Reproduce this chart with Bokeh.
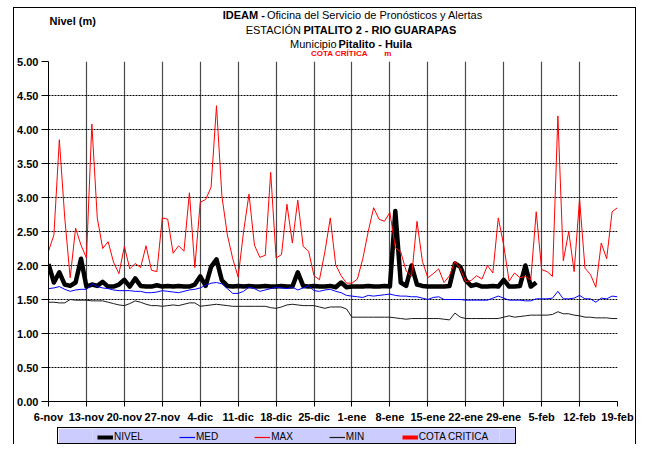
from bokeh.plotting import figure
from bokeh.models import (FixedTicker, PrintfTickFormatter, Legend, LegendItem, Range1d,
                          InlineStyleSheet)
from bokeh.layouts import column
from bokeh.embed import file_html
from bokeh.resources import INLINE
from bokeh.core.properties import value

# ---------------- data (daily, starting 6-nov) ----------------
tick_labels = ["6-nov", "13-nov", "20-nov", "27-nov", "4-dic", "11-dic", "18-dic",
               "25-dic", "1-ene", "8-ene", "15-ene", "22-ene", "29-ene", "5-feb",
               "12-feb", "19-feb"]
y_ticks = [0.0, 0.5, 1.0, 1.5, 2.0, 2.5, 3.0, 3.5, 4.0, 4.5, 5.0]

nivel = [2.02, 1.75, 1.90, 1.72, 1.70, 1.75, 2.10, 1.69, 1.72, 1.70,
         1.76, 1.69, 1.69, 1.72, 1.79, 1.69, 1.81, 1.70, 1.69, 1.69,
         1.71, 1.69, 1.70, 1.69, 1.70, 1.69, 1.69, 1.72, 1.84, 1.70,
         1.98, 2.09, 1.78, 1.70, 1.69, 1.70, 1.69, 1.70, 1.69, 1.69,
         1.70, 1.69, 1.69, 1.70, 1.69, 1.69, 1.90, 1.70, 1.69, 1.70,
         1.69, 1.69, 1.70, 1.68, 1.75, 1.68, 1.69, 1.69, 1.69, 1.70,
         1.69, 1.69, 1.70, 1.69, 2.80, 1.75, 1.70, 2.00, 1.72, 1.70,
         1.69, 1.69, 1.69, 1.69, 1.70, 2.03, 1.98, 1.78, 1.70, 1.72,
         1.69, 1.69, 1.70, 1.69, 1.79, 1.69, 1.69, 1.70, 2.00, 1.69,
         1.75]

med = [1.66, 1.67, 1.69, 1.65, 1.62, 1.64, 1.65, 1.65, 1.73, 1.69,
       1.67, 1.66, 1.64, 1.63, 1.63, 1.63, 1.62, 1.62, 1.60, 1.60,
       1.61, 1.63, 1.62, 1.61, 1.60, 1.62, 1.64, 1.65, 1.67, 1.71,
       1.74, 1.75, 1.73, 1.66, 1.59, 1.59, 1.62, 1.68, 1.66, 1.62,
       1.64, 1.66, 1.68, 1.67, 1.66, 1.68, 1.64, 1.67, 1.70, 1.63,
       1.62, 1.64, 1.65, 1.62, 1.60, 1.56, 1.55, 1.54, 1.53, 1.56,
       1.55, 1.56, 1.57, 1.58, 1.56, 1.55, 1.55, 1.54, 1.54, 1.52,
       1.50, 1.53, 1.54, 1.50, 1.50, 1.50, 1.50, 1.49, 1.49, 1.49,
       1.49, 1.49, 1.52, 1.55, 1.52, 1.49, 1.49, 1.49, 1.48, 1.48,
       1.51, 1.51, 1.51, 1.52, 1.62, 1.51, 1.51, 1.52, 1.56, 1.51,
       1.51, 1.46, 1.52, 1.51, 1.55, 1.54]

maxv = [2.21, 2.45, 3.85, 2.70, 1.82, 2.55, 2.30, 2.11, 4.08, 2.70,
        2.25, 2.35, 2.05, 1.88, 2.28, 1.95, 2.03, 1.97, 2.29, 1.93,
        1.91, 2.70, 2.68, 2.18, 2.29, 2.21, 3.07, 1.97, 2.93, 2.97,
        3.15, 4.35, 3.02, 2.45, 2.10, 1.83, 2.50, 3.05, 2.30, 2.12,
        2.15, 3.37, 2.11, 2.16, 2.90, 2.33, 2.96, 2.28, 2.21, 1.85,
        1.79, 2.20, 2.70, 2.01, 1.85, 1.74, 1.74, 1.80, 2.10, 2.50,
        2.85, 2.68, 2.65, 2.78, 2.26, 2.20, 1.92, 1.84, 2.65, 2.06,
        1.82, 1.88, 1.95, 1.75, 1.85, 2.06, 1.95, 1.76, 1.78, 1.85,
        1.80, 2.00, 1.89, 2.70, 2.30, 1.77, 1.89, 1.82, 1.84, 1.79,
        2.79, 1.94, 1.91, 1.84, 4.20, 2.07, 2.50, 1.91, 2.98, 1.96,
        1.87, 1.68, 2.33, 2.10, 2.79, 2.85]

minv = [1.46, 1.46, 1.45, 1.45, 1.50, 1.49, 1.49, 1.49, 1.48, 1.48,
        1.48, 1.46, 1.44, 1.42, 1.41, 1.44, 1.48, 1.46, 1.43, 1.41,
        1.41, 1.40, 1.41, 1.42, 1.41, 1.43, 1.45, 1.45, 1.40, 1.41,
        1.42, 1.43, 1.42, 1.41, 1.40, 1.40, 1.40, 1.40, 1.40, 1.40,
        1.40, 1.38, 1.37, 1.39, 1.42, 1.43, 1.42, 1.41, 1.41, 1.41,
        1.39, 1.37, 1.39, 1.39, 1.39, 1.36, 1.24, 1.24, 1.24, 1.24,
        1.24, 1.24, 1.24, 1.24, 1.23, 1.22, 1.21, 1.22, 1.22, 1.22,
        1.22, 1.22, 1.22, 1.21, 1.20, 1.30, 1.24, 1.22, 1.22, 1.22,
        1.22, 1.22, 1.22, 1.22, 1.24, 1.26, 1.24, 1.25, 1.26, 1.27,
        1.27, 1.27, 1.27, 1.28, 1.32, 1.29, 1.29, 1.27, 1.26, 1.24,
        1.24, 1.23, 1.23, 1.23, 1.22, 1.22]

days = list(range(len(maxv)))
nivel_days = list(range(len(nivel)))
x_ticks = [7 * i for i in range(len(tick_labels))]
X_END = x_ticks[-1]

FONT = "Liberation Sans"

# page geometry (page pixels; layout origin is the page's top-left corner)
X0, Y0 = 14, 8          # inside the outer frame (frame lines at x=13, y=7)
ML, MR = 34, 18         # left/right borders, shared by every figure of the column
FW = 583                # plot frame width (page x 48 .. 631)
FL, FR = X0 + ML, X0 + ML + FW
HEAD_H = 49

# ---------------- header (titles) ----------------
head = figure(width=ML + FW + MR, height=HEAD_H, output_backend="svg", toolbar_location=None,
              x_axis_location=None, y_axis_location=None,
              x_range=Range1d(FL, FR), y_range=Range1d(Y0 + HEAD_H, Y0),
              min_border_left=ML, min_border_right=MR,
              min_border_top=0, min_border_bottom=0)
head.grid.visible = False
head.outline_line_color = None


def htext(xs, ys, texts, size="11px", bold=False, color="black"):
    head.text(x=xs, y=ys, text=texts, text_font=value(FONT), text_font_size=value(size),
              text_font_style="bold" if bold else "normal", text_color=color,
              text_align="left", text_baseline="middle")


htext([49, 226.5, 309.3, 345.1], [20, 14, 29, 43],
      ["Nivel (m)", "IDEAM -", "PITALITO 2 - RIO GUARAPAS", "Pitalito - Huila"], bold=True)
htext([271.8, 250, 295.5], [14, 29, 43],
      ["Oficina del Servicio de Pronósticos y Alertas", "ESTACIÓN", "Municipio"])
htext([317, 392], [53, 53], ["COTA CRÍTICA", "m"], size="8px", bold=True, color="#ff0000")

# ---------------- main chart ----------------
MT, MB = 4, 23
FH = 341
p = figure(width=ML + FW + MR, height=MT + FH + MB, output_backend="svg",
           toolbar_location=None, x_range=Range1d(0, X_END), y_range=Range1d(0, 5),
           min_border_left=ML, min_border_right=MR, min_border_top=MT, min_border_bottom=MB)
p.outline_line_color = None

p.xgrid.ticker = FixedTicker(ticks=x_ticks)
p.xgrid.grid_line_color = "#4a4a4a"
p.xgrid.grid_line_width = 1.2
p.ygrid.ticker = FixedTicker(ticks=y_ticks[1:])
p.ygrid.grid_line_color = "black"
p.ygrid.grid_line_dash = "2 1"
p.ygrid.grid_line_width = 1

p.xaxis.ticker = FixedTicker(ticks=x_ticks)
p.xaxis.major_label_overrides = {t: lab for t, lab in zip(x_ticks, tick_labels)}
p.yaxis.ticker = FixedTicker(ticks=y_ticks)
p.yaxis.formatter = PrintfTickFormatter(format="%.2f")
for ax in (p.xaxis, p.yaxis):
    ax.axis_line_color = "black"
    ax.axis_line_width = 1
    ax.major_tick_line_color = "black"
    ax.major_tick_in = 0
    ax.minor_tick_line_color = None
    ax.major_label_text_font = FONT
    ax.major_label_text_font_size = "11px"
    ax.major_label_text_font_style = "bold"
    ax.major_label_text_color = "black"
p.yaxis.major_tick_out = 7
p.yaxis.major_label_standoff = 3
p.xaxis.major_tick_out = 5
p.xaxis.major_label_standoff = 4

p.line(nivel_days, nivel, line_color="black", line_width=4.5, line_join="round")
p.line(days, med, line_color="#0000ff", line_width=1)
p.line(days, maxv, line_color="#ff0000", line_width=1)
p.line(days, minv, line_color="#1a1a1a", line_width=1)

# ---------------- legend box ----------------
LX, LW, LH = 57, 459, 17     # 1px border outside the canvas: box 57..518 x 427..446
legend_css = InlineStyleSheet(css=":host { border: 1px solid #000 !important; }")
lf = figure(width=LW, height=LH, output_backend="svg", toolbar_location=None,
            x_axis_location=None, y_axis_location=None,
            x_range=Range1d(0, 1), y_range=Range1d(0, 1),
            min_border_left=ML, min_border_right=MR,
            min_border_top=0, min_border_bottom=0, margin=(2, 0, 0, LX - X0),
            stylesheets=[legend_css])
lf.grid.visible = False
lf.background_fill_color = "#ccccff"
lf.border_fill_color = "#ccccff"
lf.outline_line_color = None

nan = [float("nan")]
l_nivel = lf.line(nan, nan, line_color="black", line_width=4)
l_med = lf.line(nan, nan, line_color="#0000ff", line_width=1.2)
l_max = lf.line(nan, nan, line_color="#ff0000", line_width=1.2)
l_min = lf.line(nan, nan, line_color="#1a1a1a", line_width=1.2)
l_cota = lf.line(nan, nan, line_color="#ff0000", line_width=4)

legend = Legend(items=[LegendItem(label="NIVEL", renderers=[l_nivel]),
                       LegendItem(label="MED", renderers=[l_med]),
                       LegendItem(label="MAX", renderers=[l_max]),
                       LegendItem(label="MIN", renderers=[l_min]),
                       LegendItem(label="COTA CRITICA", renderers=[l_cota])],
                orientation="horizontal", location=(97 - (LX + 1 + ML), 2.5),
                background_fill_alpha=0, border_line_color=None, padding=0, margin=0,
                spacing=36, glyph_width=16, glyph_height=12, label_height=12,
                label_standoff=1, label_text_font=FONT, label_text_font_size="10px",
                label_text_color="black")
lf.add_layout(legend)

frame_css = InlineStyleSheet(css=""":host {
  margin-left: 13px !important;
  margin-top: 7px !important;
  border-left: 1px solid #000 !important;
  border-top: 1px solid #000 !important;
  border-right: 1px solid #000 !important;
  width: 623px !important;
  overflow: visible !important;
}""")
root = column(head, p, lf, stylesheets=[frame_css])

open("out.html", "w").write(file_html(root, INLINE))
